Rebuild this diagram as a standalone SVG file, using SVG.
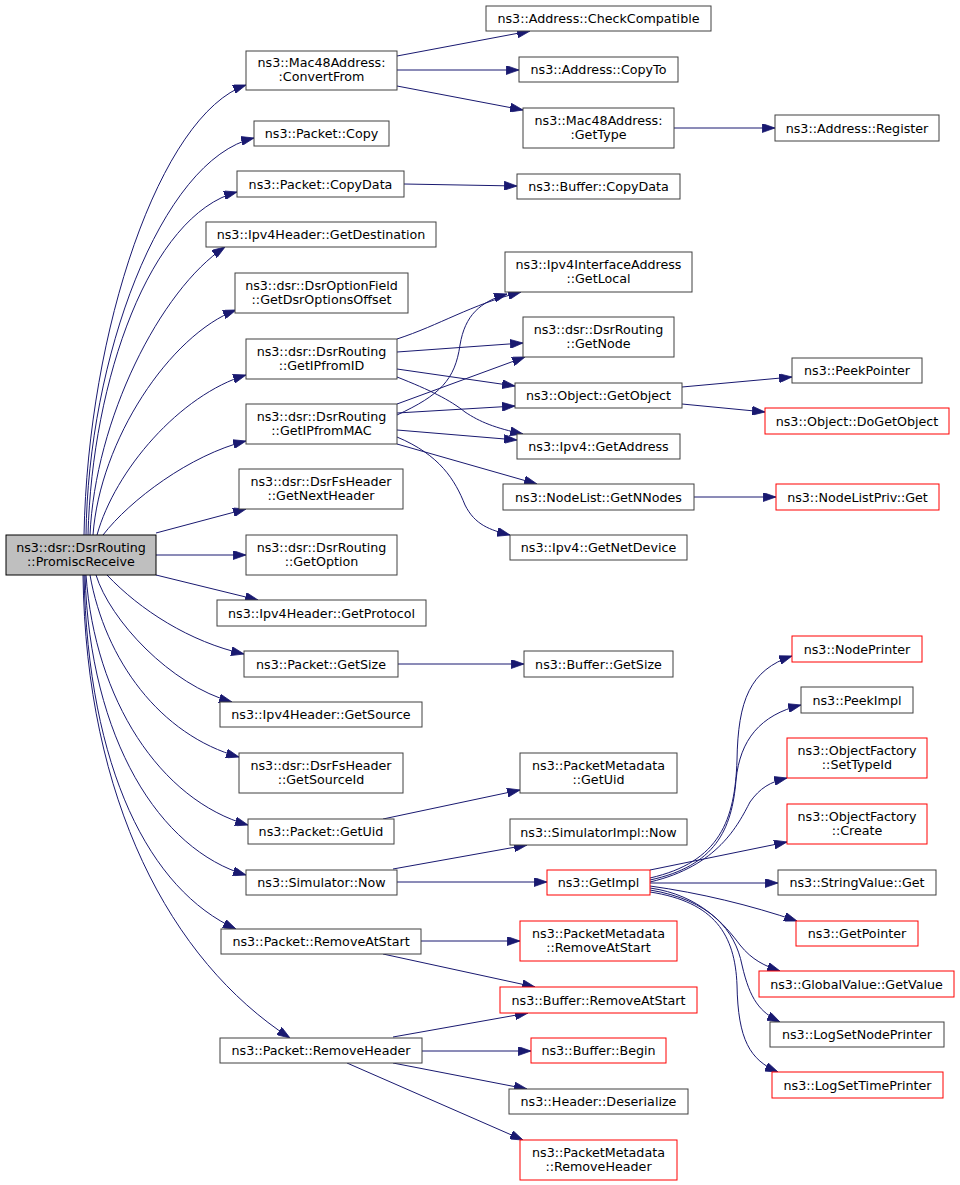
<svg xmlns="http://www.w3.org/2000/svg" width="960" height="1185" viewBox="0 0 960 1185">
<defs>
<marker id="ah" markerUnits="userSpaceOnUse" markerWidth="13" markerHeight="9" viewBox="0 0 10 7" refX="10" refY="3.5" orient="auto">
<path d="M0,0 L10,3.5 L0,7 z" fill="#191970" stroke="#191970" stroke-width="0.6"/>
</marker>
<style>
.n rect{fill:#fff;stroke:#404040;stroke-width:1}
.r rect{fill:#fff;stroke:#ff0000;stroke-width:1}
.m rect{fill:#bfbfbf;stroke:#000;stroke-width:1}
text{font-family:"DejaVu Sans","Liberation Sans",sans-serif;font-size:12.7px;text-anchor:middle;fill:#000}
#edges path{fill:none;stroke:#191970;stroke-width:1;marker-end:url(#ah)}
</style>
</defs>
<rect width="960" height="1185" fill="#fff"/>
<g id="edges">
<path d="M84,535 C88,330 160,115 246,85"/>
<path d="M86,535 C88,360 160,160 254,138"/>
<path d="M88,535 C92,380 150,215 237,192"/>
<path d="M90,535 C95,420 160,290 225,247"/>
<path d="M93,535 C100,440 170,335 236,310"/>
<path d="M97,535 C115,470 180,395 246,375"/>
<path d="M103,535 C130,500 190,455 246,441"/>
<path d="M156,533 L246,509"/>
<path d="M156,555 L246,555"/>
<path d="M156,575 L258,600"/>
<path d="M107,575 C140,610 190,642 244,654"/>
<path d="M96,575 C110,620 170,685 232,702"/>
<path d="M90,575 C105,660 160,735 239,757"/>
<path d="M86,575 C95,700 160,800 248,825"/>
<path d="M85,575 C90,740 160,850 246,875"/>
<path d="M84,575 C88,770 150,890 236,929"/>
<path d="M83,575 C86,800 170,960 290,1038"/>
<path d="M397,56 L530,31"/>
<path d="M397,70 L519,70"/>
<path d="M397,86 L523,110"/>
<path d="M674,128 L775,128"/>
<path d="M404,184 L517,186"/>
<path d="M398,664 L524,664"/>
<path d="M397,339 C440,325 470,305 521,292"/>
<path d="M397,352 L523,343"/>
<path d="M397,369 L515,386"/>
<path d="M397,377 C430,390 450,400 465,412 C480,422 495,428 523,434"/>
<path d="M397,415 C440,395 455,380 460,345 C465,315 480,302 507,294"/>
<path d="M397,404 L525,357"/>
<path d="M397,413 L515,406"/>
<path d="M397,430 L517,440"/>
<path d="M397,444 L537,484"/>
<path d="M397,437 C440,455 455,480 465,505 C475,525 490,530 510,535"/>
<path d="M682,387 L792,377"/>
<path d="M682,404 L765,412"/>
<path d="M694,497 L776,497"/>
<path d="M383,819 L520,790"/>
<path d="M393,869 L527,845"/>
<path d="M397,882 L547,882"/>
<path d="M650,878 C720,862 735,820 737,760 C738,700 750,670 792,656"/>
<path d="M650,880 C715,866 732,830 736,780 C740,740 760,715 801,705"/>
<path d="M650,882 C718,866 738,825 750,802 C760,788 770,782 787,778"/>
<path d="M650,870 L787,842"/>
<path d="M650,883 L778,883"/>
<path d="M650,886 C700,893 750,905 797,921"/>
<path d="M650,888 C700,895 725,925 740,945 C752,960 765,966 780,971"/>
<path d="M650,890 C710,900 735,930 742,965 C750,1000 760,1012 780,1022"/>
<path d="M650,892 C715,902 735,935 737,985 C738,1040 750,1060 778,1072"/>
<path d="M421,941 L520,941"/>
<path d="M383,954 L535,987"/>
<path d="M393,1037 L528,1013"/>
<path d="M422,1051 L531,1051"/>
<path d="M393,1063 L527,1089"/>
<path d="M347,1063 L523,1140"/>
</g>
<g id="n0" class="m"><rect x="6" y="535" width="150" height="40"/><text x="81" y="551.5">ns3::dsr::DsrRouting</text><text x="81" y="565.5">::PromiscReceive</text></g>
<g id="n1" class="n"><rect x="246" y="51" width="151" height="39"/><text x="321.5" y="67">ns3::Mac48Address:</text><text x="321.5" y="81">:ConvertFrom</text></g>
<g id="n2" class="n"><rect x="254" y="121" width="135" height="25"/><text x="321.5" y="138">ns3::Packet::Copy</text></g>
<g id="n3" class="n"><rect x="237" y="171" width="167" height="26"/><text x="320.5" y="188.5">ns3::Packet::CopyData</text></g>
<g id="n4" class="n"><rect x="206" y="222" width="230" height="25"/><text x="321" y="239">ns3::Ipv4Header::GetDestination</text></g>
<g id="n5" class="n"><rect x="235" y="273" width="173" height="40"/><text x="321.5" y="289.5">ns3::dsr::DsrOptionField</text><text x="321.5" y="303.5">::GetDsrOptionsOffset</text></g>
<g id="n6" class="n"><rect x="246" y="339" width="151" height="40"/><text x="321.5" y="355.5">ns3::dsr::DsrRouting</text><text x="321.5" y="369.5">::GetIPfromID</text></g>
<g id="n7" class="n"><rect x="246" y="404" width="151" height="40"/><text x="321.5" y="420.5">ns3::dsr::DsrRouting</text><text x="321.5" y="434.5">::GetIPfromMAC</text></g>
<g id="n8" class="n"><rect x="239" y="469" width="164" height="40"/><text x="321" y="485.5">ns3::dsr::DsrFsHeader</text><text x="321" y="499.5">::GetNextHeader</text></g>
<g id="n9" class="n"><rect x="246" y="535" width="151" height="40"/><text x="321.5" y="551.5">ns3::dsr::DsrRouting</text><text x="321.5" y="565.5">::GetOption</text></g>
<g id="n10" class="n"><rect x="217" y="600" width="209" height="26"/><text x="321.5" y="617.5">ns3::Ipv4Header::GetProtocol</text></g>
<g id="n11" class="n"><rect x="244" y="651" width="154" height="26"/><text x="321" y="668.5">ns3::Packet::GetSize</text></g>
<g id="n12" class="n"><rect x="220" y="702" width="202" height="25"/><text x="321" y="719">ns3::Ipv4Header::GetSource</text></g>
<g id="n13" class="n"><rect x="239" y="753" width="164" height="40"/><text x="321" y="769.5">ns3::dsr::DsrFsHeader</text><text x="321" y="783.5">::GetSourceId</text></g>
<g id="n14" class="n"><rect x="248" y="819" width="146" height="25"/><text x="321" y="836">ns3::Packet::GetUid</text></g>
<g id="n15" class="n"><rect x="246" y="870" width="151" height="25"/><text x="321.5" y="887">ns3::Simulator::Now</text></g>
<g id="n16" class="n"><rect x="221" y="929" width="200" height="25"/><text x="321" y="946">ns3::Packet::RemoveAtStart</text></g>
<g id="n17" class="n"><rect x="220" y="1038" width="202" height="25"/><text x="321" y="1055">ns3::Packet::RemoveHeader</text></g>
<g id="n18" class="n"><rect x="486" y="6" width="225" height="25"/><text x="598.5" y="23">ns3::Address::CheckCompatible</text></g>
<g id="n19" class="n"><rect x="519" y="57" width="159" height="25"/><text x="598.5" y="74">ns3::Address::CopyTo</text></g>
<g id="n20" class="n"><rect x="523" y="108" width="151" height="40"/><text x="598.5" y="124.5">ns3::Mac48Address:</text><text x="598.5" y="138.5">:GetType</text></g>
<g id="n21" class="n"><rect x="775" y="115" width="164" height="26"/><text x="857" y="132.5">ns3::Address::Register</text></g>
<g id="n22" class="n"><rect x="517" y="174" width="163" height="25"/><text x="598.5" y="191">ns3::Buffer::CopyData</text></g>
<g id="n23" class="n"><rect x="505" y="252" width="187" height="40"/><text x="598.5" y="268.5">ns3::Ipv4InterfaceAddress</text><text x="598.5" y="282.5">::GetLocal</text></g>
<g id="n24" class="n"><rect x="523" y="317" width="151" height="40"/><text x="598.5" y="333.5">ns3::dsr::DsrRouting</text><text x="598.5" y="347.5">::GetNode</text></g>
<g id="n25" class="n"><rect x="515" y="383" width="167" height="25"/><text x="598.5" y="400">ns3::Object::GetObject</text></g>
<g id="n26" class="n"><rect x="792" y="358" width="130" height="25"/><text x="857" y="375">ns3::PeekPointer</text></g>
<g id="n27" class="r"><rect x="765" y="408" width="184" height="26"/><text x="857" y="425.5">ns3::Object::DoGetObject</text></g>
<g id="n28" class="n"><rect x="517" y="434" width="163" height="25"/><text x="598.5" y="451">ns3::Ipv4::GetAddress</text></g>
<g id="n29" class="n"><rect x="503" y="484" width="191" height="26"/><text x="598.5" y="501.5">ns3::NodeList::GetNNodes</text></g>
<g id="n30" class="r"><rect x="776" y="484" width="163" height="26"/><text x="857.5" y="501.5">ns3::NodeListPriv::Get</text></g>
<g id="n31" class="n"><rect x="510" y="535" width="177" height="25"/><text x="598.5" y="552">ns3::Ipv4::GetNetDevice</text></g>
<g id="n32" class="n"><rect x="524" y="651" width="149" height="26"/><text x="598.5" y="668.5">ns3::Buffer::GetSize</text></g>
<g id="n33" class="r"><rect x="792" y="636" width="130" height="26"/><text x="857" y="653.5">ns3::NodePrinter</text></g>
<g id="n34" class="n"><rect x="801" y="687" width="112" height="26"/><text x="857" y="704.5">ns3::PeekImpl</text></g>
<g id="n35" class="r"><rect x="787" y="738" width="140" height="40"/><text x="857" y="754.5">ns3::ObjectFactory</text><text x="857" y="768.5">::SetTypeId</text></g>
<g id="n36" class="n"><rect x="520" y="753" width="157" height="40"/><text x="598.5" y="769.5">ns3::PacketMetadata</text><text x="598.5" y="783.5">::GetUid</text></g>
<g id="n37" class="r"><rect x="787" y="804" width="140" height="40"/><text x="857" y="820.5">ns3::ObjectFactory</text><text x="857" y="834.5">::Create</text></g>
<g id="n38" class="n"><rect x="510" y="819" width="177" height="26"/><text x="598.5" y="836.5">ns3::SimulatorImpl::Now</text></g>
<g id="n39" class="r"><rect x="547" y="870" width="103" height="25"/><text x="598.5" y="887">ns3::GetImpl</text></g>
<g id="n40" class="n"><rect x="778" y="870" width="158" height="25"/><text x="857" y="887">ns3::StringValue::Get</text></g>
<g id="n41" class="r"><rect x="520" y="921" width="157" height="40"/><text x="598.5" y="937.5">ns3::PacketMetadata</text><text x="598.5" y="951.5">::RemoveAtStart</text></g>
<g id="n42" class="r"><rect x="500" y="987" width="197" height="26"/><text x="598.5" y="1004.5">ns3::Buffer::RemoveAtStart</text></g>
<g id="n43" class="r"><rect x="531" y="1038" width="135" height="25"/><text x="598.5" y="1055">ns3::Buffer::Begin</text></g>
<g id="n44" class="n"><rect x="509" y="1089" width="179" height="25"/><text x="598.5" y="1106">ns3::Header::Deserialize</text></g>
<g id="n45" class="r"><rect x="520" y="1140" width="157" height="40"/><text x="598.5" y="1156.5">ns3::PacketMetadata</text><text x="598.5" y="1170.5">::RemoveHeader</text></g>
<g id="n46" class="r"><rect x="796" y="921" width="122" height="25"/><text x="857" y="938">ns3::GetPointer</text></g>
<g id="n47" class="r"><rect x="759" y="971" width="195" height="26"/><text x="856.5" y="988.5">ns3::GlobalValue::GetValue</text></g>
<g id="n48" class="n"><rect x="770" y="1022" width="174" height="25"/><text x="857" y="1039">ns3::LogSetNodePrinter</text></g>
<g id="n49" class="r"><rect x="772" y="1072" width="171" height="26"/><text x="857.5" y="1089.5">ns3::LogSetTimePrinter</text></g>
</svg>
